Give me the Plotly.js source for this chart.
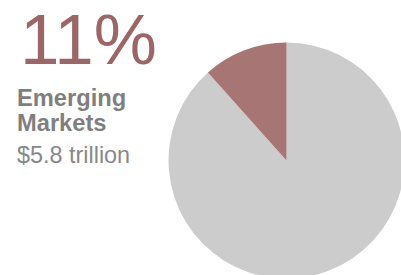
<!DOCTYPE html>
<html>
<head>
<meta charset="utf-8">
<script src="https://cdn.plot.ly/plotly-3.0.1.min.js"></script>
<style>
html,body{margin:0;padding:0;overflow:hidden;background:#fff;width:401px;height:275px;}
#chart{width:420px;height:300px;}
</style>
</head>
<body>
<div id="chart"></div>
<script>
// Data
var labels = ['Rest of world', 'Emerging Markets'];
var values = [88.4, 11.6];
var sliceColors = ['#cccccc', '#a67574'];
var shareText = '11%';
var categoryLines = ['Emerging', 'Markets'];
var amountText = '$5.8 trillion';

var W = 420, H = 300;
function px(x){ return x / W; }
function py(y){ return 1 - y / H; }

var trace = {
  type: 'pie',
  labels: labels,
  values: values,
  sort: false,
  direction: 'counterclockwise',
  rotation: 0,
  marker: {colors: sliceColors, line: {width: 0}},
  textinfo: 'none',
  hoverinfo: 'none',
  showlegend: false,
  domain: {x: [px(168.5), px(404.5)], y: [py(278.5), py(42.5)]}
};

var font = 'Liberation Sans, Arial, Helvetica, sans-serif';
var annotations = [
  {text: shareText, x: px(18), y: py(40), xanchor: 'left', yanchor: 'middle',
   font: {family: font, size: 71, color: '#9b6665'}},
  {text: '<b>' + categoryLines[0] + '</b>', x: px(15), y: py(98), xanchor: 'left', yanchor: 'middle',
   font: {family: font, size: 23.7, color: '#7f7f7f'}},
  {text: '<b>' + categoryLines[1] + '</b>', x: px(15), y: py(123), xanchor: 'left', yanchor: 'middle',
   font: {family: font, size: 23.7, color: '#7f7f7f'}},
  {text: amountText, x: px(15), y: py(155), xanchor: 'left', yanchor: 'middle',
   font: {family: font, size: 23.4, color: '#888888'}}
];
annotations.forEach(function(a){ a.xref = 'paper'; a.yref = 'paper'; a.showarrow = false; });

var layout = {
  width: W, height: H,
  margin: {l: 0, r: 0, t: 0, b: 0, pad: 0},
  paper_bgcolor: '#ffffff',
  plot_bgcolor: '#ffffff',
  annotations: annotations,
  showlegend: false
};

Plotly.newPlot('chart', [trace], layout, {staticPlot: true, displayModeBar: false});
</script>
</body>
</html>
